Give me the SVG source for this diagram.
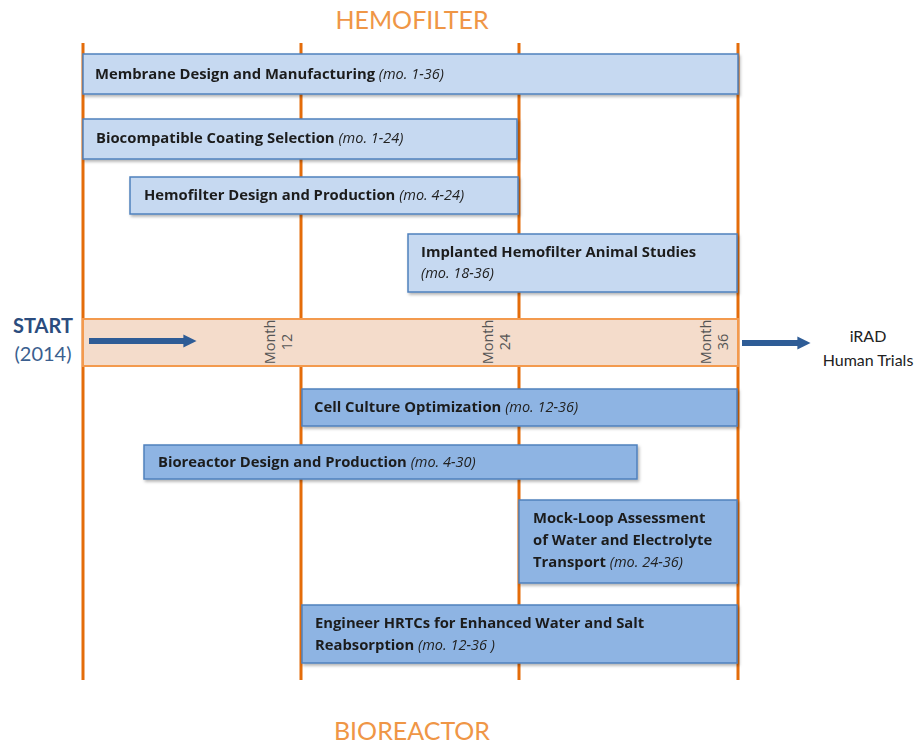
<svg xmlns="http://www.w3.org/2000/svg" width="920" height="744" viewBox="0 0 920 744">
<defs>
<style>
.vline{stroke:#e46c0a;stroke-width:3;fill:none}
.light{fill:#c6d9f1;stroke:#4f81bd;stroke-width:1.5}
.dark{fill:#8eb4e3;stroke:#4f81bd;stroke-width:1.5}
.lbl{font-family:"Open Sans",Lato,sans-serif;font-weight:bold;font-size:14.8px;fill:#1c1c1c}
.mo{font-style:italic;font-weight:normal;font-size:14.5px;fill:#222}
.head{font-family:Lato,"Open Sans",sans-serif;font-size:25px;fill:#ef9646;text-anchor:middle}
.month{font-family:"Open Sans",Lato,sans-serif;font-size:14.5px;fill:#555;text-anchor:middle}
.side{font-family:Lato,"Open Sans",sans-serif;text-anchor:middle}
</style>
<filter id="sh" x="-5%" y="-20%" width="110%" height="150%">
<feDropShadow dx="1.5" dy="2" stdDeviation="1.5" flood-color="#000" flood-opacity="0.3"/>
</filter>
<marker id="ah" viewBox="0 0 10 10" refX="2" refY="5" markerWidth="2.2" markerHeight="2.6" orient="auto" markerUnits="strokeWidth">
<path d="M0,0 L10,5 L0,10 z" fill="#2e5c96"/>
</marker>
</defs>
<rect width="920" height="744" fill="#fff"/>
<text class="head" x="412" y="29">HEMOFILTER</text>
<text class="head" x="412" y="740">BIOREACTOR</text>
<g id="grid">
<line class="vline" x1="83" y1="43" x2="83" y2="680"/>
<line class="vline" x1="301" y1="43" x2="301" y2="680"/>
<line class="vline" x1="519" y1="43" x2="519" y2="680"/>
<line class="vline" x1="738" y1="43" x2="738" y2="680"/>
</g>
<g id="timeline">
<rect x="83" y="319" width="655" height="47" fill="#f4dccb" stroke="#f39a4e" stroke-width="2"/>
<text class="month" transform="translate(275,342) rotate(-90)"><tspan x="0" y="0">Month</tspan><tspan x="0" y="17">12</tspan></text>
<text class="month" transform="translate(493,342) rotate(-90)"><tspan x="0" y="0">Month</tspan><tspan x="0" y="17">24</tspan></text>
<text class="month" transform="translate(711,342) rotate(-90)"><tspan x="0" y="0">Month</tspan><tspan x="0" y="17">36</tspan></text>
</g>
<g id="start">
<text class="side" x="43" y="333" font-size="20" font-weight="bold" fill="#2b4c7e">START</text>
<text class="side" x="43" y="361" font-size="20" fill="#3b5f8f">(2014)</text>
</g>
<g id="end">
<text class="side" x="868" y="342" font-size="16" fill="#222">iRAD</text>
<text class="side" x="868" y="366" font-size="16" fill="#222">Human Trials</text>
</g>
<g id="connectors">
<line x1="89" y1="341" x2="186" y2="341" stroke="#2e5c96" stroke-width="6" marker-end="url(#ah)"/>
<line x1="742" y1="343" x2="800" y2="343" stroke="#2e5c96" stroke-width="6" marker-end="url(#ah)"/>
</g>
<g id="n1" filter="url(#sh)"><rect class="light" x="83" y="54" width="655" height="40"/>
<text class="lbl" x="95" y="79">Membrane Design and Manufacturing <tspan class="mo">(mo. 1-36)</tspan></text></g>
<g id="n2" filter="url(#sh)"><rect class="light" x="83" y="119" width="434" height="40"/>
<text class="lbl" x="96" y="143">Biocompatible Coating Selection <tspan class="mo">(mo. 1-24)</tspan></text></g>
<g id="n3" filter="url(#sh)"><rect class="light" x="130" y="177" width="388" height="37"/>
<text class="lbl" x="144" y="200">Hemofilter Design and Production <tspan class="mo">(mo. 4-24)</tspan></text></g>
<g id="n4" filter="url(#sh)"><rect class="light" x="408" y="234" width="329" height="58"/>
<text class="lbl" x="421" y="257">Implanted Hemofilter Animal Studies</text>
<text class="lbl mo" x="421" y="278">(mo. 18-36)</text></g>
<g id="n5" filter="url(#sh)"><rect class="dark" x="302" y="389" width="435" height="37"/>
<text class="lbl" x="314" y="412">Cell Culture Optimization <tspan class="mo">(mo. 12-36)</tspan></text></g>
<g id="n6" filter="url(#sh)"><rect class="dark" x="144" y="445" width="493" height="34"/>
<text class="lbl" x="158" y="467">Bioreactor Design and Production <tspan class="mo">(mo. 4-30)</tspan></text></g>
<g id="n7" filter="url(#sh)"><rect class="dark" x="519" y="500" width="218" height="83"/>
<text class="lbl" x="533" y="523">Mock-Loop Assessment</text>
<text class="lbl" x="533" y="545">of Water and Electrolyte</text>
<text class="lbl" x="533" y="567">Transport <tspan class="mo">(mo. 24-36)</tspan></text></g>
<g id="n8" filter="url(#sh)"><rect class="dark" x="302" y="605" width="435" height="58"/>
<text class="lbl" x="315" y="628">Engineer HRTCs for Enhanced Water and Salt</text>
<text class="lbl" x="315" y="650">Reabsorption <tspan class="mo">(mo. 12-36 )</tspan></text></g>
</svg>
